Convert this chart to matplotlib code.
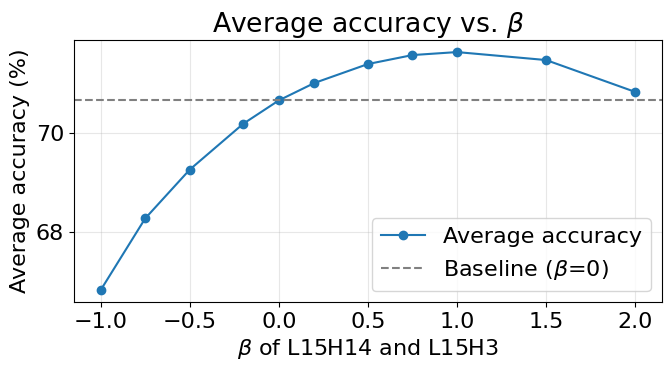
import matplotlib
matplotlib.use("Agg")
import matplotlib.pyplot as plt

betas = [-1.0, -0.75, -0.5, -0.2, 0.0, 0.2, 0.5, 0.75, 1.0, 1.5, 2.0]
accuracy = [66.84, 68.28, 69.26, 70.18, 70.65, 71.0, 71.38, 71.56, 71.62, 71.46, 70.82]
baseline = 70.65

plt.rcParams['font.size'] = 16

fig, ax = plt.subplots(figsize=(6.72, 3.72), dpi=100)
ax.plot(betas, accuracy, marker='o', color='#1f77b4', label='Average accuracy')
ax.axhline(baseline, color='gray', linestyle='--', label=r'Baseline ($\beta$=0)')
ax.set_title(r'Average accuracy vs. $\beta$')
ax.set_xlabel(r'$\beta$ of L15H14 and L15H3')
ax.set_ylabel('Average accuracy (%)')
ax.set_yticks([68, 70])
ax.grid(True, alpha=0.3)
ax.legend(loc='lower right')

fig.subplots_adjust(left=0.110, right=0.985, top=0.892, bottom=0.188)
fig.savefig('out.png', dpi=100)
